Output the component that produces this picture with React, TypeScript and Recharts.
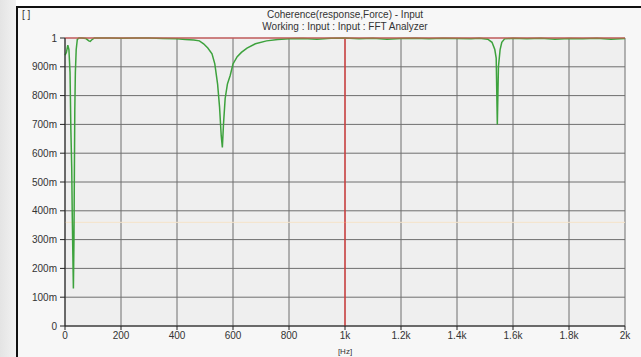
import React from 'react';
import {
  LineChart, Line, XAxis, YAxis, CartesianGrid, ReferenceLine, Label,
} from 'recharts';

const freqs = [
  0, 5, 10, 14, 18, 21, 24, 26, 28, 30, 32, 33, 35, 37, 40, 44, 50, 60, 75, 85, 90, 95, 105,
  130, 160, 200, 250, 300, 350, 400, 430, 460, 480, 495, 510, 525, 535, 545, 552, 558, 562,
  566, 572, 580, 590, 600, 615, 630, 650, 680, 720, 760, 800, 850, 900, 950, 1000, 1050,
  1100, 1150, 1200, 1250, 1300, 1350, 1400, 1450, 1480, 1510, 1525, 1535, 1540, 1544, 1548,
  1554, 1560, 1570, 1600, 1650, 1700, 1750, 1800, 1850, 1900, 1950, 2000,
];
const coherence = [
  0.94, 0.95, 0.975, 0.96, 0.88, 0.68, 0.55, 0.38, 0.25, 0.13, 0.3, 0.46, 0.75, 0.88, 0.96,
  0.995, 1, 1, 0.998, 0.99, 0.988, 0.993, 1,
  1, 1, 0.999, 1, 1, 0.998, 0.997, 0.995, 0.993, 0.99, 0.98, 0.965, 0.945, 0.91, 0.84, 0.76,
  0.66, 0.62, 0.7, 0.79, 0.84, 0.87, 0.91, 0.935, 0.95, 0.965, 0.98, 0.99, 0.995, 0.997,
  0.998, 0.996, 0.999, 1, 0.997, 0.999, 0.996, 0.998, 0.999, 0.997, 0.999, 0.998, 0.997,
  0.999, 0.996, 0.985, 0.96, 0.93, 0.7, 0.9, 0.96, 0.985, 0.997, 0.999, 0.997, 0.999, 0.996,
  0.998, 0.997, 0.999, 0.996, 0.998,
];
const xTicks = [0, 200, 400, 600, 800, 1000, 1200, 1400, 1600, 1800, 2000];
const yTicks = [0, 0.1, 0.2, 0.3, 0.4, 0.5, 0.6, 0.7, 0.8, 0.9, 1];

const data = freqs.map((f, i) => ({ f, c: coherence[i] }));

const fmtX = (v: number) => (v === 0 ? '0' : v < 1000 ? `${v}` : `${v / 1000}k`);
const fmtY = (v: number) => (v === 0 ? '0' : v >= 0.999 ? '1' : `${Math.round(v * 1000)}m`);

const font = 'Liberation Sans, Arial, sans-serif';
const tick = { fill: '#333', fontSize: 10, fontFamily: font };

export default function App() {
  return (
    <div style={{ position: 'fixed', left: 0, top: 0, width: 641, height: 357, background: '#fff', overflow: 'hidden' }}>
      <div style={{ position: 'absolute', left: 0, top: 0, width: 16, height: 357, background: 'linear-gradient(90deg,#e4e4e4,#f2f2f2)' }} />
      <div style={{ position: 'absolute', left: 16, top: 6, width: 640, height: 360, border: '2px solid #111', background: '#f7f7f7' }} />
      <div style={{ position: 'absolute', left: 22, top: 9, fontSize: 10, fontFamily: font, color: '#333' }}>[ ]</div>
      <div style={{ position: 'absolute', left: 65, width: 560, top: 9, textAlign: 'center', fontSize: 10, fontFamily: font, color: '#333', lineHeight: '12px' }}>
        Coherence(response,Force) - Input<br />Working : Input : Input : FFT Analyzer
      </div>
      <div style={{ position: 'absolute', left: 0, top: 0 }}>
        <LineChart width={641} height={357} data={data} margin={{ top: 38, right: 16, bottom: 0, left: 0 }}>
          <CartesianGrid stroke="#6e6e6e" fill="#efefef" strokeWidth={1} />
          <XAxis dataKey="f" type="number" domain={[0, 2000]} ticks={xTicks} tickFormatter={fmtX}
            tick={tick} height={31} tickSize={4} tickMargin={2} stroke="#222" interval={0}>
            <Label value="[Hz]" position="insideBottom" offset={3} style={{ fill: '#333', fontSize: 8, fontFamily: font }} />
          </XAxis>
          <YAxis type="number" domain={[0, 1]} ticks={yTicks} tickFormatter={fmtY} tick={tick}
            width={65} tickSize={5} tickMargin={3} stroke="#222" interval={0} />
          <ReferenceLine y={0.36} stroke="#f6e3c8" strokeWidth={1} />
          <ReferenceLine x={1000} stroke="#e53030" strokeWidth={1.2} />
          <Line type="linear" dataKey="c" stroke="#3da23d" strokeWidth={1.5} dot={false} isAnimationActive={false} />
          <ReferenceLine y={1} stroke="#e85050" strokeWidth={1.2} />
        </LineChart>
      </div>
    </div>
  );
}
